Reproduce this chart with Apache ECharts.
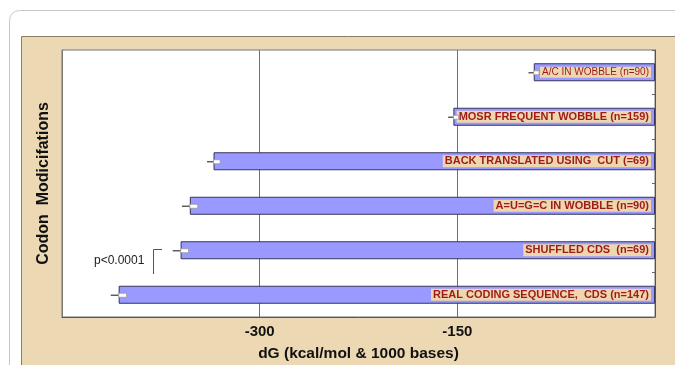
<!DOCTYPE html>
<html>
<head>
<meta charset="utf-8">
<script src="https://cdn.jsdelivr.net/npm/echarts@6/dist/echarts.min.js"></script>
<style>
html,body{margin:0;padding:0;background:#fff;}
#chart{width:675px;height:365px;}
</style>
</head>
<body>
<div id="chart"></div>
<script>
// categories top to bottom
const categories = [
  'A/C IN WOBBLE (n=90)',
  'MOSR FREQUENT WOBBLE (n=159)',
  'BACK TRANSLATED USING  CUT (=69)',
  'A=U=G=C IN WOBBLE (n=90)',
  'SHUFFLED CDS  (n=69)',
  'REAL CODING SEQUENCE,  CDS (n=147)'
];
const dGValues = [-92, -153, -335, -353, -360, -407];
const dGErrors = [4, 4, 5, 6, 6, 6];
const xTicks = [-450, -300, -150, 0];
const xLabelsShown = [-300, -150];

const chart = echarts.init(document.getElementById('chart'));
const labelColor = '#9e1a1f';
const labelBg = '#eed7ad';
const FF = '"Liberation Sans", Arial, sans-serif';

const barData = dGValues.map((v, i) => {
  const d = { value: v };
  if (i === 0) d.label = { fontWeight: 'normal', fontSize: 10 };
  return d;
});

const errData = dGValues.map((v, i) => [v, i, dGErrors[i]]);

chart.setOption({
  animation: false,
  backgroundColor: '#ffffff',
  graphic: [
    { type: 'rect', z: -10, shape: { x: 9.5, y: 10.5, width: 720, height: 400, r: 10 },
      style: { fill: '#ffffff', stroke: '#c8c8c8', lineWidth: 1 } },
    { type: 'rect', z: -9, shape: { x: 21.5, y: 36.5, width: 700, height: 400 },
      style: { fill: '#ecd8b3', stroke: '#8a7a66', lineWidth: 1 } },
    { type: 'text', z: 10, left: 94, top: 255,
      style: { text: 'p<0.0001', fill: '#222', font: '12px ' + FF } },
    { type: 'polyline', z: 10, shape: { points: [[162, 249.5], [153.5, 249.5], [153.5, 274]] },
      style: { stroke: '#555', lineWidth: 1, fill: null } }
  ],
  grid: { left: 62, right: 20, top: 50, bottom: 48, outerBoundsMode: 'none', containLabel: false,
          show: true, backgroundColor: '#ffffff', borderColor: '#777', borderWidth: 1 },
  xAxis: {
    type: 'value', min: xTicks[0], max: xTicks[xTicks.length - 1], interval: 150,
    axisLine: { show: true, lineStyle: { color: '#555' } },
    axisTick: { show: false },
    splitLine: { show: true, lineStyle: { color: '#707070', width: 1 } },
    axisLabel: {
      margin: 7, color: '#111', fontWeight: 'bold', fontSize: 15, fontFamily: FF,
      formatter: v => xLabelsShown.indexOf(v) >= 0 ? String(v) : ''
    },
    name: 'dG (kcal/mol & 1000 bases)', nameLocation: 'middle', nameGap: 29,
    nameTextStyle: { color: '#111', fontWeight: 'bold', fontSize: 15.5, fontFamily: FF }
  },
  yAxis: [
    {
      type: 'category', data: categories, inverse: true, position: 'left',
      axisLine: { show: true, onZero: false, lineStyle: { color: '#777' } },
      axisTick: { show: false }, axisLabel: { show: false },
      name: 'Codon  Modicifations', nameLocation: 'middle', nameGap: 10, nameRotate: 90,
      nameTextStyle: { color: '#111', fontWeight: 'bold', fontSize: 16, fontFamily: FF }
    },
    {
      type: 'category', data: categories, inverse: true, position: 'right',
      axisLine: { show: true, onZero: false, lineStyle: { color: '#555' } },
      axisTick: { show: true, inside: true, length: 3, lineStyle: { color: '#666' } },
      axisLabel: { show: false }
    }
  ],
  series: [
    {
      type: 'bar', yAxisIndex: 0, data: barData, barWidth: 18,
      itemStyle: { color: '#9999ff', borderColor: '#34345e', borderWidth: 1 },
      label: {
        show: true, position: 'insideRight', distance: 4,
        formatter: p => categories[p.dataIndex],
        color: labelColor, fontWeight: 'bold', fontSize: 11, fontFamily: FF,
        backgroundColor: labelBg, padding: [1, 2, 0, 2]
      }
    },
    {
      type: 'custom', yAxisIndex: 0, data: errData, z: 5,
      renderItem: function (params, api) {
        const v = api.value(0), c = api.value(1), e = api.value(2);
        const lo = api.coord([v - e, c]);
        const mid = api.coord([v, c]);
        const hi = api.coord([v + e, c]);
        return {
          type: 'group',
          children: [
            { type: 'line', shape: { x1: lo[0], y1: lo[1] + 0.5, x2: mid[0], y2: mid[1] + 0.5 },
              style: { stroke: '#555', lineWidth: 1.4 } },
            { type: 'rect', shape: { x: mid[0], y: mid[1] - 1.5, width: hi[0] - mid[0], height: 4 },
              style: { fill: '#ffffff', stroke: '#999', lineWidth: 0.8 } }
          ]
        };
      }
    }
  ]
});
</script>
</body>
</html>
